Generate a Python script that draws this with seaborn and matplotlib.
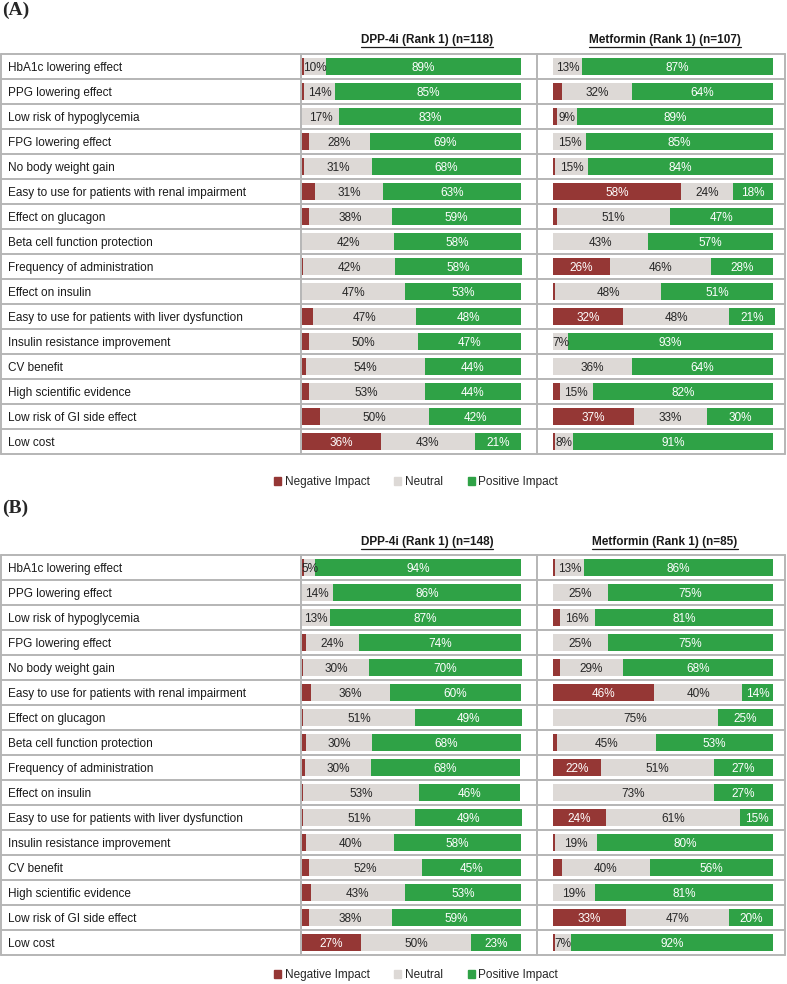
import numpy as np
import pandas as pd
import matplotlib
matplotlib.use("Agg")
import matplotlib.pyplot as plt
from matplotlib.patches import Patch
from matplotlib.lines import Line2D
import seaborn as sns

sns.set_style("white")
plt.rcParams['font.family'] = ['Liberation Sans', 'DejaVu Sans']

# attributes (same order in both panels)
items = [
    "HbA1c lowering effect",
    "PPG lowering effect",
    "Low risk of hypoglycemia",
    "FPG lowering effect",
    "No body weight gain",
    "Easy to use for patients with renal impairment",
    "Effect on glucagon",
    "Beta cell function protection",
    "Frequency of administration",
    "Effect on insulin",
    "Easy to use for patients with liver dysfunction",
    "Insulin resistance improvement",
    "CV benefit",
    "High scientific evidence",
    "Low risk of GI side effect",
    "Low cost",
]

# (A) DPP-4i (Rank 1) (n=118)
a_dpp_neg = [1, 1, 0, 3, 1, 6, 3, 0, 0.5, 0, 5, 3, 2, 3, 8, 36]
a_dpp_neu = [10, 14, 17, 28, 31, 31, 38, 42, 42, 47, 47, 50, 54, 53, 50, 43]
a_dpp_pos = [89, 85, 83, 69, 68, 63, 59, 58, 58, 53, 48, 47, 44, 44, 42, 21]

# (A) Metformin (Rank 1) (n=107)
a_met_neg = [0, 4, 2, 0, 1, 58, 2, 0, 26, 1, 32, 0, 0, 3, 37, 1]
a_met_neu = [13, 32, 9, 15, 15, 24, 51, 43, 46, 48, 48, 7, 36, 15, 33, 8]
a_met_pos = [87, 64, 89, 85, 84, 18, 47, 57, 28, 51, 21, 93, 64, 82, 30, 91]

# (B) DPP-4i (Rank 1) (n=148)
b_dpp_neg = [1, 0, 0, 2, 0.5, 4, 0.5, 2, 1.5, 0.5, 0.5, 2, 3, 4, 3, 27]
b_dpp_neu = [5, 14, 13, 24, 30, 36, 51, 30, 30, 53, 51, 40, 52, 43, 38, 50]
b_dpp_pos = [94, 86, 87, 74, 70, 60, 49, 68, 68, 46, 49, 58, 45, 53, 59, 23]

# (B) Metformin (Rank 1) (n=85)
b_met_neg = [1, 0, 3, 0, 3, 46, 0, 2, 22, 0, 24, 1, 4, 0, 33, 1]
b_met_neu = [13, 25, 16, 25, 29, 40, 75, 45, 51, 73, 61, 19, 40, 19, 47, 7]
b_met_pos = [86, 75, 81, 75, 68, 14, 25, 53, 27, 27, 15, 80, 56, 81, 20, 92]

RED = "#953735"
GREY = "#DDD9D6"
GREEN = "#2FA246"
LINE = "#B5B5B5"
FS = 8.5

W, H = 787, 984
ROW = 25.0
fig = plt.figure(figsize=(W / 100, H / 100), dpi=100)


def box(x0, y0, x1, y1):
    return [x0 / W, 1 - y1 / H, (x1 - x0) / W, (y1 - y0) / H]


def bar_column(df, x0, x1, xlim, top):
    ax = fig.add_axes(box(x0, top, x1, top + 16 * ROW))
    d = df.assign(total=df.neg + df.neu + df.pos, negneu=df.neg + df.neu)
    for col, c in [("total", GREEN), ("negneu", GREY), ("neg", RED)]:
        sns.barplot(data=d, x=col, y="item", order=items, color=c, width=0.7,
                    saturation=1, errorbar=None, linewidth=0, ax=ax)
    for i, r in d.iterrows():
        if r.neg >= 10:
            ax.text(r.neg / 2, i, f"{r.neg:.0f}%", ha="center",
                    va="center_baseline", color="white", fontsize=FS)
        if r.neu >= 5:
            ax.text(r.neg + r.neu / 2, i, f"{r.neu:.0f}%", ha="center",
                    va="center_baseline", color="#262626", fontsize=FS)
        ax.text(r.neg + r.neu + r.pos / 2, i, f"{r.pos:.0f}%", ha="center",
                va="center_baseline", color="white", fontsize=FS)
    ax.set_xlim(*xlim)
    ax.set_ylim(15.5, -0.5)
    ax.set_facecolor("none")
    ax.axis("off")


def header(text, xc, y):
    t = fig.text(xc / W, 1 - y / H, text, ha="center", va="center_baseline",
                 fontsize=FS, fontweight="bold", color="#1a1a1a")
    fig.canvas.draw()
    bb = t.get_window_extent().transformed(fig.transFigure.inverted())
    yl = bb.y0 - 1.0 / H
    fig.add_artist(Line2D([bb.x0, bb.x1], [yl, yl], color="#1a1a1a", lw=0.9,
                          transform=fig.transFigure))


def panel(tag, tag_y, top, head_y, legend_y, dpp, met, n_dpp, n_met):
    fig.text(2 / W, 1 - tag_y / H, tag, ha="left", va="center", fontsize=14,
             fontweight="bold", family="Liberation Serif")
    tab = fig.add_axes(box(0, top, W, top + 16 * ROW))
    tab.set_xlim(0, W)
    tab.set_ylim(16, 0)
    tab.axis("off")
    for i in range(17):
        tab.plot([1, 785], [i, i], color=LINE, lw=1.4, clip_on=False, zorder=1)
    for x in [1, 301, 537, 785]:
        tab.plot([x, x], [0, 16], color=LINE, lw=1.4, clip_on=False, zorder=1)
    for i, name in enumerate(items):
        tab.text(8, i + 0.5, name, ha="left", va="center_baseline",
                 fontsize=FS, color="#1a1a1a")

    bar_column(dpp, 301, 537, (-0.45, 107.3), top)
    bar_column(met, 537, 785, (-7.3, 105.5), top)

    header(f"DPP-4i (Rank 1) (n={n_dpp})", 427, head_y)
    header(f"Metformin (Rank 1) (n={n_met})", 665, head_y)

    handles = [Patch(color=RED, label="Negative Impact"),
               Patch(color=GREY, label="Neutral"),
               Patch(color=GREEN, label="Positive Impact")]
    fig.legend(handles=handles, loc="center", ncol=3, frameon=False,
               bbox_to_anchor=(416 / W, 1 - legend_y / H), fontsize=FS,
               handlelength=0.6, handleheight=0.6, handletextpad=0.3,
               columnspacing=2.1, labelcolor="#262626")


def make_df(neg, neu, pos):
    return pd.DataFrame({"item": items, "neg": neg, "neu": neu, "pos": pos})


panel("(A)", 10, 54, 39, 482,
      make_df(a_dpp_neg, a_dpp_neu, a_dpp_pos),
      make_df(a_met_neg, a_met_neu, a_met_pos), 118, 107)
panel("(B)", 508, 555, 540, 975,
      make_df(b_dpp_neg, b_dpp_neu, b_dpp_pos),
      make_df(b_met_neg, b_met_neu, b_met_pos), 148, 85)

fig.savefig("out.png", dpi=100)
